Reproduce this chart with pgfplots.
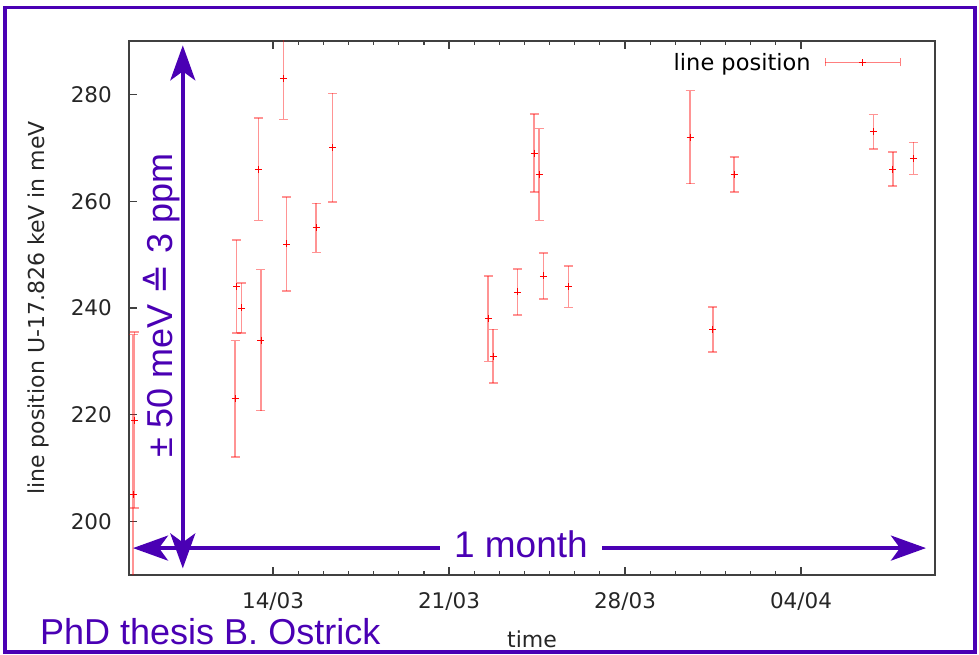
\documentclass[border=0pt]{standalone}
\usepackage{pgfplots}
\usepackage{pgfplotstable}
\pgfplotsset{compat=1.18}
\usepackage{fontspec}
\setmainfont{DejaVu Sans}
\newfontfamily\annfont{Liberation Sans}
\newfontfamily\djv{DejaVu Sans}
\usetikzlibrary{arrows.meta}
\definecolor{annot}{RGB}{74,0,180}
\definecolor{axgray}{RGB}{64,64,64}

\pgfplotstableread{
x y e
8.43 205 30
8.49 219 16.5
12.49 223 10.9
12.55 244 8.7
12.75 240 4.7
13.42 266 9.6
13.52 234 13.2
14.41 283 7.7
14.54 252 8.8
15.71 255 4.6
16.37 270 10.2
22.56 238 8
22.76 231 5
23.73 243 4.3
24.39 269 7.3
24.58 265 8.6
24.75 246 4.3
25.75 244 3.9
30.59 272 8.7
31.49 236 4.2
32.34 265 3.3
37.88 273 3.2
38.65 266 3.2
39.47 268 3
}\datatable

\begin{document}
\begin{tikzpicture}
\useasboundingbox (0,0) rectangle (979pt,655pt);
\begin{axis}[
  at={(129pt,80pt)}, anchor=south west,
  scale only axis, width=806pt, height=534pt,
  xmin=8.27, xmax=40.33, ymin=190, ymax=290,
  xtick={14,21,28,35}, xticklabels={14/03,21/03,28/03,04/04},
  minor x tick num=6,
  ytick={200,220,240,260,280},
  tick align=inside, xtick pos=both, ytick pos=left,
  major tick length=8pt, minor tick length=4pt,
  axis line style={axgray, line width=1.5pt},
  every tick/.style={axgray, line width=1.2pt},
  tick label style={font=\fontsize{21.5}{24}\selectfont, text=black!85},
  /pgf/number format/assume math mode=true,
  xticklabel style={anchor=base, yshift=-34pt},
  yticklabel style={anchor=east, inner sep=0pt, xshift=-17pt},
  xlabel={time}, ylabel={line position U-17.826 keV in meV},
  label style={font=\fontsize{22}{26}\selectfont, text=black!85},
  xlabel style={at={(axis description cs:0.5,-0.1367)}, anchor=base},
  ylabel style={at={(axis description cs:-0.1129,0.5)}, anchor=center},
  clip mode=individual,
  legend plot pos=right,
  legend style={draw=none, fill=none, at={(axis description cs:1,1)}, anchor=north east,
    xshift=-31pt, yshift=-8pt, font=\fontsize{22.5}{26}\selectfont},
  legend image code/.code={
    \draw[red, opacity=0.5, line width=1.2pt] (0pt,0pt) -- (75pt,0pt);
    \draw[red, opacity=0.5, line width=1.2pt] (0pt,-4pt) -- (0pt,4pt) (75pt,-4pt) -- (75pt,4pt);
    \draw[red, line width=0.8pt] (37.5pt,-3.5pt) -- (37.5pt,3.5pt) (34pt,0pt) -- (41pt,0pt);
  },
]
\addplot+[only marks, mark=+, red, mark size=3.5pt, mark options={red, line width=0.8pt},
  error bars/.cd, y dir=both, y explicit,
  error bar style={red, opacity=0.42, line width=1.6pt},
  error mark options={red, opacity=0.42, line width=1.6pt, mark size=4.5pt, rotate=90}]
  table[x=x, y=y, y error=e] {\datatable};
\addlegendentry{line position\rule{12pt}{0pt}}

\draw[annot, line width=3.5pt, {Stealth[length=35pt,width=25pt,inset=9pt]}-{Stealth[length=35pt,width=25pt,inset=9pt]}]
  (axis cs:10.41,191.24) -- (axis cs:10.41,289.18);
\draw[annot, line width=3.5pt, {Stealth[length=35pt,width=25pt,inset=9pt]}-{Stealth[length=35pt,width=25pt,inset=9pt]}]
  (axis cs:8.43,195.04) -- (axis cs:39.97,195.04);
\node[annot, fill=white, inner xsep=14pt, inner ysep=2pt, anchor=base,
  font=\annfont\fontsize{37}{40}\selectfont] at (axis cs:23.86,193.24) {1 month};
\node[annot, rotate=90, anchor=base, inner sep=0pt,
  font=\annfont\fontsize{36}{40}\selectfont] at (axis cs:10.02,240.4) {± 50 meV {\djv ≙} 3 ppm};
\end{axis}
\draw[annot, line width=3.5pt] (5pt,3pt) rectangle (975pt,647.7pt);
\node[annot, anchor=base west, inner sep=0pt, font=\annfont\fontsize{36}{40}\selectfont]
  at (40pt,10pt) {PhD thesis B. Ostrick};
\end{tikzpicture}
\end{document}
